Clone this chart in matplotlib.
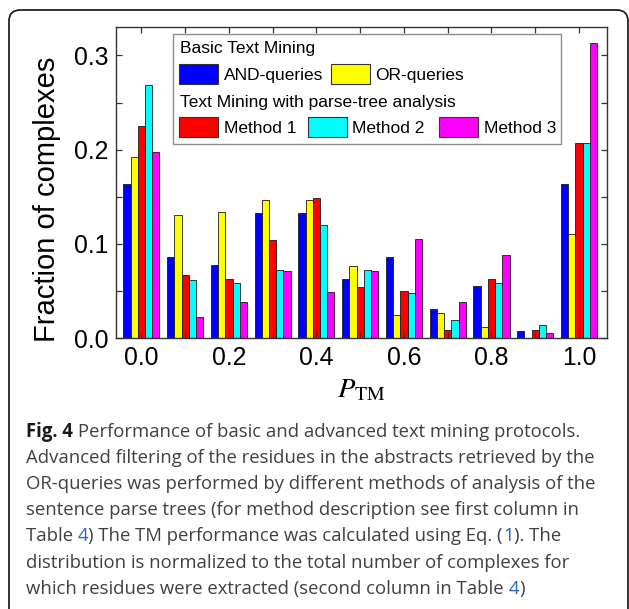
import matplotlib.pyplot as plt
import numpy as np
from matplotlib.patches import Rectangle, FancyBboxPatch
from matplotlib.ticker import MultipleLocator, FormatStrFormatter

plt.rcParams['font.family'] = ['Liberation Sans', 'DejaVu Sans']
plt.rcParams['mathtext.fontset'] = 'stix'

# fraction of complexes per P_TM bin
p_tm = [0.0, 0.1, 0.2, 0.3, 0.4, 0.5, 0.6, 0.7, 0.8, 0.9, 1.0]
and_queries = [0.164, 0.086, 0.078, 0.133, 0.133, 0.063, 0.086, 0.031, 0.055, 0.0076, 0.164]
or_queries = [0.192, 0.131, 0.134, 0.146, 0.146, 0.076, 0.024, 0.027, 0.012, 0.0, 0.110]
method_1 = [0.225, 0.067, 0.063, 0.104, 0.149, 0.054, 0.050, 0.0087, 0.063, 0.0087, 0.207]
method_2 = [0.269, 0.062, 0.058, 0.072, 0.120, 0.072, 0.048, 0.019, 0.058, 0.0143, 0.207]
method_3 = [0.197, 0.022, 0.038, 0.071, 0.049, 0.071, 0.105, 0.038, 0.088, 0.0055, 0.313]

series = [and_queries, or_queries, method_1, method_2, method_3]
labels = ['AND-queries', 'OR-queries', 'Method 1', 'Method 2', 'Method 3']
colors = ['#0000ff', '#ffff00', '#ff0000', '#00ffff', '#ff00ff']

W, H = 629, 609
fig = plt.figure(figsize=(W / 100, H / 100), dpi=100)


def px(x, y):
    # image pixel -> figure fraction
    return x / W, 1 - y / H


ax = fig.add_axes([116 / W, 1 - 338 / H, 491 / W, 311.3 / H])

bw = 0.0165
x = np.array(p_tm)
for i, (vals, c) in enumerate(zip(series, colors)):
    ax.bar(x + (i - 2) * bw, vals, bw, color=c, edgecolor='#1a1a1a', linewidth=0.6)

ax.set_xlim(-0.058, 1.064)
ax.set_ylim(0, 0.3305)
ax.xaxis.set_major_locator(MultipleLocator(0.2))
ax.xaxis.set_minor_locator(MultipleLocator(0.1))
ax.yaxis.set_major_locator(MultipleLocator(0.1))
ax.yaxis.set_minor_locator(MultipleLocator(0.05))
ax.xaxis.set_major_formatter(FormatStrFormatter('%.1f'))
ax.yaxis.set_major_formatter(FormatStrFormatter('%.1f'))
ax.tick_params(which='both', direction='in', top=True, right=True,
               length=4.5, width=0.9, color='#333333')
ax.tick_params(which='major', labelsize=17.8, pad=5.5)
for s in ax.spines.values():
    s.set_linewidth(1.0)
    s.set_color('#333333')

ax.set_ylabel('Fraction of complexes', fontsize=21)
ax.yaxis.set_label_coords(-0.112, 0.4465)
fig.text(*px(361, 397), r'$P_{\mathrm{TM}}$', fontsize=20.5, ha='center', va='baseline')

# legend with two group headers
fig.add_artist(Rectangle(px(172.7, 144), (561 - 172.7) / W, (144 - 34) / H,
                         transform=fig.transFigure, facecolor='white',
                         edgecolor='#8c8c8c', linewidth=1.0, zorder=3))
fs_leg = 12.5
fig.text(*px(180, 53), 'Basic Text Mining', fontsize=fs_leg, va='baseline', zorder=4)
fig.text(*px(180, 106.6), 'Text Mining with parse-tree analysis', fontsize=fs_leg,
         va='baseline', zorder=4)
entries = [(0, 179.3, 64), (1, 331, 64), (2, 179.3, 117), (3, 308, 117), (4, 439, 117)]
for idx, hx, hy in entries:
    fig.add_artist(Rectangle(px(hx, hy + 19.5), 39 / W, 19.5 / H, transform=fig.transFigure,
                             facecolor=colors[idx], edgecolor='#333333', linewidth=0.8, zorder=4))
    fig.text(*px(hx + 44.5, hy + 15.6), labels[idx], fontsize=fs_leg, va='baseline', zorder=4)

# rounded frame around figure + caption
fig.add_artist(FancyBboxPatch(px(9, 625), (628 - 9) / W, (625 - 10) / H,
                              boxstyle='round,pad=0,rounding_size=0.018',
                              transform=fig.transFigure, fill=False,
                              edgecolor='#222222', linewidth=1.3))

txt_col = '#404040'
link_col = '#2b63c6'
cap_font = ['Open Sans', 'DejaVu Sans']
cap_size = 13.35
caption = [
    [('Fig. 4 ', 'bold', '#1a1a1a'), ('Performance of basic and advanced text mining protocols.', 'normal', txt_col)],
    [('Advanced filtering of the residues in the abstracts retrieved by the', 'normal', txt_col)],
    [('OR-queries was performed by different methods of analysis of the', 'normal', txt_col)],
    [('sentence parse trees (for method description see first column in', 'normal', txt_col)],
    [('Table ', 'normal', txt_col), ('4', 'normal', link_col),
     (') The TM performance was calculated using Eq. (', 'normal', txt_col),
     ('1', 'normal', link_col), ('). The', 'normal', txt_col)],
    [('distribution is normalized to the total number of complexes for', 'normal', txt_col)],
    [('which residues were extracted (second column in Table ', 'normal', txt_col),
     ('4', 'normal', link_col), (')', 'normal', txt_col)],
]

renderer = fig.canvas.get_renderer()


def text_width(s, weight):
    t = fig.text(0, 0, s, fontsize=cap_size, family=cap_font, weight=weight)
    w = t.get_window_extent(renderer).width
    t.remove()
    return w


for k, line in enumerate(caption):
    xpos = 26.0
    ypos = 437 + 26.1 * k
    for j, (s, weight, col) in enumerate(line):
        fig.text(*px(xpos, ypos), s, fontsize=cap_size, family=cap_font,
                 weight=weight, color=col, va='baseline')
        if j + 1 < len(line):
            nxt = line[j + 1][0][0]
            xpos += text_width(s + nxt, weight) - text_width(nxt, weight)

fig.savefig('out.png', dpi=100)
